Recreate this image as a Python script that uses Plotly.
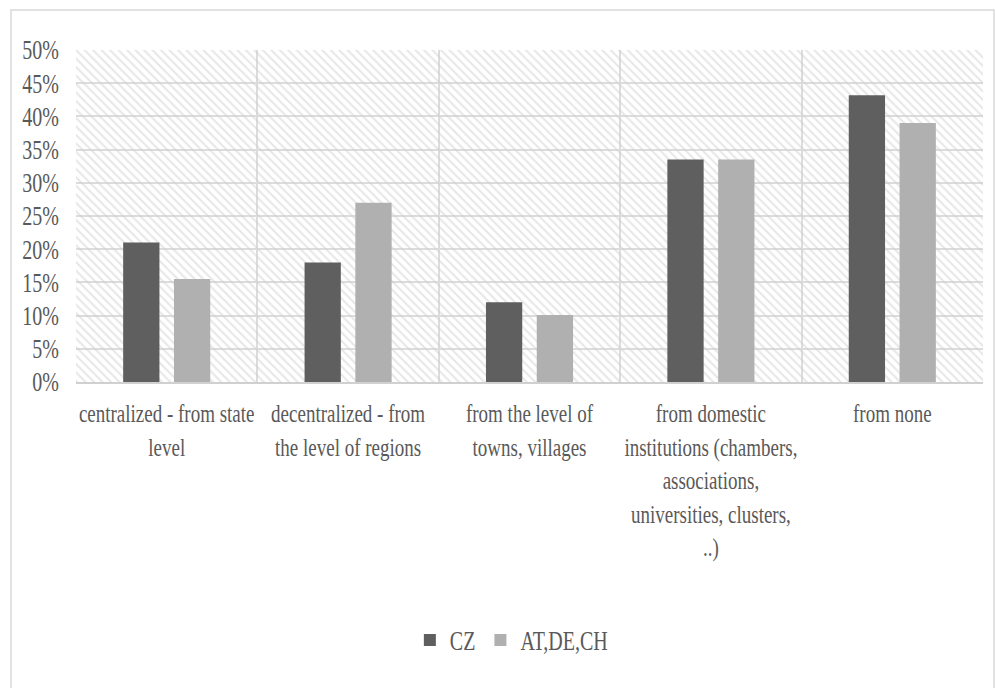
import plotly.graph_objects as go

categories = [
    "centralized - from state<br>level",
    "decentralized - from<br>the level of regions",
    "from the level of<br>towns, villages",
    "from domestic<br>institutions (chambers,<br>associations,<br>universities, clusters,<br>..)",
    "from none",
]
cz_values = [21.0, 18.0, 12.0, 33.5, 43.2]
atdech_values = [15.5, 27.0, 10.1, 33.5, 39.0]
series_names = ["CZ", "AT,DE,CH"]
y_ticks = [0, 5, 10, 15, 20, 25, 30, 35, 40, 45, 50]

W, H = 995, 688
L, R, T, B = 76, 12, 50, 306

fig = go.Figure()

# hatched plot-area background (transparent background so gridlines show through)
fig.add_trace(go.Bar(
    x=[categories[2]], y=[max(y_ticks)], width=[len(categories)],
    marker=dict(color="rgba(0,0,0,0)", line=dict(width=0),
                pattern=dict(shape="\\", fgcolor="#cfcfcf", bgcolor="rgba(0,0,0,0)",
                             size=6, solidity=0.35, fillmode="overlay")),
    showlegend=False, hoverinfo="skip",
))

fig.add_trace(go.Bar(
    x=categories, y=cz_values, name=series_names[0],
    marker=dict(color="#5f5f5f", line=dict(width=0)),
    width=0.2, offset=-0.24,
))
fig.add_trace(go.Bar(
    x=categories, y=atdech_values, name=series_names[1],
    marker=dict(color="#b0b0b0", line=dict(width=0)),
    width=0.2, offset=0.04,
))

font_family = "Liberation Serif, Times New Roman, serif"
text_color = "#595959"

fig.update_layout(
    width=W, height=H,
    margin=dict(l=L, r=R, t=T, b=B, pad=0),
    paper_bgcolor="white", plot_bgcolor="white",
    barmode="overlay",
    font=dict(family=font_family, color=text_color, size=18),
    legend=dict(orientation="h", x=0.48, xanchor="center", y=-0.777, yanchor="middle",
                font=dict(size=20, family=font_family, color=text_color),
                itemwidth=30, traceorder="normal", itemsizing="constant"),
    xaxis=dict(
        type="category", categoryorder="array", categoryarray=categories,
        range=[-0.5, len(categories) - 0.5],
        tickson="boundaries", showgrid=True, gridcolor="#dcdcdc", gridwidth=1.5,
        ticks="", showline=True, linecolor="#d0d0d0", linewidth=1.5,
        tickangle=0,
        tickfont=dict(size=19, family=font_family, color=text_color),
        ticklabelstandoff=10,
    ),
    yaxis=dict(
        range=[0, 50], tickvals=y_ticks, ticktext=[f"{v}%" for v in y_ticks],
        showgrid=True, gridcolor="#dcdcdc", gridwidth=1.5,
        zeroline=False, ticks="", showline=False,
        tickfont=dict(size=20, family=font_family, color=text_color),
        ticklabelstandoff=16,
    ),
    shapes=[dict(type="rect", xref="paper", yref="paper",
                 x0=(11 - L) / (W - L - R), x1=(994 - L) / (W - L - R),
                 y0=(H - B - 700) / (H - T - B), y1=(H - B - 10) / (H - T - B),
                 line=dict(color="#d9d9d9", width=1.5), fillcolor="rgba(0,0,0,0)", layer="below")],
)

# The reference's text is drawn vertically stretched (tall, narrow serif glyphs);
# reproduce that by scaling the rendered text elements vertically.
post_js = """
var gd = document.getElementById('{plot_id}');
function stretchText(sel, k, anchorTop) {
  gd.querySelectorAll(sel).forEach(function (t) {
    var bb = t.getBBox();
    var cx = bb.x + bb.width / 2;
    var cy = anchorTop ? bb.y : bb.y + bb.height / 2;
    var tr = t.getAttribute('transform') || '';
    t.setAttribute('transform', tr + ' translate(' + cx + ',' + cy + ') scale(1,' + k + ') translate(' + (-cx) + ',' + (-cy) + ')');
  });
}
stretchText('.xtick text', 1.35, true);
stretchText('.ytick text', 1.35, false);
stretchText('.legendtext', 1.35, false);
"""

fig.write_html("out.html", post_script=post_js)
